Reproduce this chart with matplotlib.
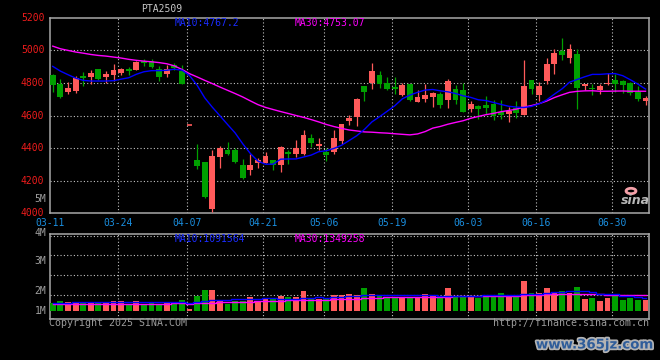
import matplotlib
matplotlib.use('Agg')
import matplotlib.pyplot as plt
import numpy as np
import matplotlib.patheffects as pe
from matplotlib.patches import Rectangle, Circle

# ---------------- data ----------------
title = 'PTA2509'
date_labels = ['03-11', '03-24', '04-07', '04-21', '05-06', '05-19', '06-03', '06-16', '06-30']
date_index = [0, 9, 18, 28, 36, 45, 55, 64, 74]

opens = [4849, 4796, 4743, 4749, 4841, 4837, 4883, 4837, 4847, 4863,
         4883, 4881, 4934, 4937, 4883, 4853, 4908, 4873, 4545, 4326,
         4314, 4028, 4347, 4388, 4388, 4296, 4265, 4306, 4310, 4326,
         4296, 4377, 4367, 4367, 4465, 4416, 4377, 4377, 4445, 4565,
         4592, 4779, 4800, 4847, 4800, 4775, 4724, 4792, 4684, 4700,
         4714, 4734, 4698, 4765, 4759, 4643, 4657, 4667, 4669, 4622,
         4612, 4649, 4602, 4816, 4724, 4812, 4914, 4999, 4953, 4979,
         4781, 4771, 4755, 4796, 4816, 4810, 4802, 4745, 4690]
highs = [4857, 4826, 4806, 4841, 4865, 4877, 4888, 4871, 4914, 4894,
         4898, 4934, 4945, 4947, 4902, 4912, 4920, 4908, 4545, 4424,
         4314, 4388, 4412, 4437, 4398, 4333, 4363, 4337, 4377, 4330,
         4412, 4388, 4449, 4510, 4486, 4461, 4398, 4514, 4551, 4602,
         4710, 4783, 4922, 4871, 4837, 4837, 4800, 4796, 4755, 4796,
         4745, 4745, 4826, 4785, 4800, 4687, 4663, 4718, 4694, 4694,
         4653, 4687, 4938, 4820, 4806, 4955, 5010, 5073, 5040, 5010,
         4796, 4796, 4796, 4863, 4857, 4816, 4808, 4779, 4718]
lows = [4745, 4708, 4730, 4739, 4781, 4796, 4816, 4802, 4810, 4849,
        4849, 4877, 4902, 4892, 4812, 4837, 4877, 4794, 4545, 4273,
        4096, 4010, 4280, 4360, 4310, 4212, 4235, 4276, 4306, 4265,
        4255, 4302, 4347, 4357, 4408, 4388, 4322, 4367, 4428, 4541,
        4535, 4688, 4765, 4771, 4759, 4735, 4718, 4688, 4684, 4684,
        4653, 4649, 4649, 4669, 4622, 4622, 4577, 4612, 4571, 4581,
        4561, 4587, 4602, 4734, 4690, 4796, 4853, 4944, 4922, 4638,
        4755, 4728, 4734, 4785, 4745, 4740, 4724, 4690, 4663]
closes = [4788, 4714, 4769, 4830, 4833, 4861, 4824, 4853, 4877, 4886,
          4873, 4928, 4924, 4896, 4835, 4883, 4890, 4794, 4545, 4290,
          4102, 4351, 4400, 4363, 4314, 4218, 4296, 4326, 4351, 4296,
          4408, 4363, 4402, 4480, 4431, 4428, 4357, 4465, 4547, 4584,
          4704, 4745, 4871, 4796, 4765, 4765, 4786, 4694, 4714, 4724,
          4739, 4663, 4810, 4694, 4622, 4669, 4639, 4647, 4596, 4602,
          4626, 4616, 4779, 4765, 4779, 4914, 4987, 4969, 5010, 4769,
          4792, 4763, 4779, 4800, 4792, 4785, 4738, 4700, 4708]
volume_m = [0.70, 0.85, 0.76, 0.76, 0.76, 0.76, 0.76, 0.76, 0.85, 0.85,
            0.61, 0.85, 0.61, 0.76, 0.50, 0.76, 0.76, 0.94, 0.15, 1.29,
            1.81, 1.81, 0.85, 0.61, 0.85, 0.85, 1.20, 0.85, 1.08, 1.08,
            1.29, 1.20, 1.20, 1.73, 1.02, 1.02, 1.02, 1.37, 1.37, 1.46,
            1.37, 1.99, 1.46, 1.32, 1.23, 1.23, 1.23, 1.08, 1.14, 1.46,
            1.32, 1.23, 1.99, 1.32, 1.23, 1.17, 1.14, 1.37, 1.29, 1.55,
            1.32, 1.37, 2.60, 1.52, 1.58, 1.99, 1.67, 1.73, 1.52, 2.08,
            1.02, 1.11, 0.85, 1.11, 1.29, 0.94, 1.08, 0.94, 0.94]
ma10_head = [4902, 4873, 4851, 4830, 4816, 4812, 4812, 4812, 4814]
ma30_head = [5026, 5010, 5000, 4990, 4983, 4975, 4969, 4965, 4959, 4953,
             4945, 4939, 4934, 4930, 4925, 4918, 4905, 4883, 4857, 4837,
             4816, 4796, 4775, 4755, 4735, 4714, 4690, 4667, 4650]
vma10_head = [0.70, 0.70, 0.71, 0.72, 0.72, 0.73, 0.73, 0.73, 0.74]
vma30_head = [0.60, 0.60, 0.60, 0.60, 0.61, 0.61, 0.61, 0.61, 0.62, 0.62,
              0.62, 0.62, 0.63, 0.63, 0.63, 0.63, 0.64, 0.64, 0.63, 0.65,
              0.68, 0.71, 0.72, 0.73, 0.75, 0.77, 0.80, 0.82, 0.84]
ma_text_price = ['MA10:4767.2', 'MA30:4753.07']
ma_text_vol = ['MA10:1091564', 'MA30:1349258']
price_ticks = [4000, 4200, 4400, 4600, 4800, 5000, 5200]
vol_labels = ['1M', '2M', '3M', '4M', '5M']

# ---------------- style ----------------
W, H = 660, 360
UP = '#ff5a5a'
DOWN = '#00a000'
BLUE = '#0000ff'
MAG = '#ff00ff'
GRID = '#c4c4c4'
BORDER = '#a8a8a8'
MONO = 'DejaVu Sans Mono'
FS = 7


def fx(x):
    return x / W


def fy(y):
    return 1 - y / H


def rolling(vals, n, head):
    out = []
    for i in range(len(vals)):
        if i < n - 1:
            out.append(head[i])
        else:
            out.append(float(np.mean(vals[i - n + 1:i + 1])))
    return out


ma10 = rolling(closes, 10, ma10_head)
ma30 = rolling(closes, 30, ma30_head)
vma10 = rolling(volume_m, 10, vma10_head)
vma30 = rolling(volume_m, 30, vma30_head)

fig = plt.figure(figsize=(6.6, 3.6), dpi=100, facecolor='black')

L, R = 50, 649
SP = 7.6
XMAX = (R - L) / SP
OFF = 0.36
BW = 0.78

# main axis
ax = fig.add_axes([fx(L), fy(213.3), fx(R - L), (213.3 - 17.8) / H])
ax.set_facecolor('black')
ax.set_xlim(0, XMAX)
ax.set_ylim(4000, 5200)

# volume axis
VB = 310.7
K = 11.4
axv = fig.add_axes([fx(L), fy(318.7), fx(R - L), (318.7 - 234.3) / H])
axv.set_facecolor('black')
axv.set_xlim(0, XMAX)
axv.set_ylim(-(318.7 - VB) / K, (VB - 234.3) / K)

for a in (ax, axv):
    for s in a.spines.values():
        s.set_color(BORDER)
        s.set_linewidth(1.1)
    a.tick_params(length=0)
    a.set_xticks([])
    a.set_yticks([])
    for xi in date_index[1:]:
        a.axvline(xi, color=GRID, lw=0.8, ls=(0, (1, 2)), zorder=1)

for p in price_ticks[1:-1]:
    ax.axhline(p, color=GRID, lw=0.8, ls=(0, (1, 2)), zorder=1)
for ypx in [235.7, 255.3, 275.3, 295.3]:
    axv.axhline((VB - ypx) / K, color=GRID, lw=0.8, ls=(0, (1, 2)), zorder=1)

# price tick labels
ax.set_yticks(price_ticks)
ax.set_yticklabels([str(p) for p in price_ticks], color='#ee1c1c',
                   fontfamily=MONO, fontsize=FS)
ax.tick_params(axis='y', pad=4)
for t in ax.get_yticklabels():
    t.set_verticalalignment('center')

# date labels (placed as text just under the price panel)
for lab, xi in zip(date_labels, date_index):
    ax.annotate(lab, xy=(xi, 0), xycoords=('data', 'axes fraction'),
                xytext=(0, -6.95), textcoords='offset points',
                color='#1a8fe0', fontfamily=MONO, fontsize=FS,
                ha='center', va='center', annotation_clip=False)

# candles
for i in range(len(closes)):
    o, h, l, c = opens[i], highs[i], lows[i], closes[i]
    col = UP if c >= o else DOWN
    x = i + OFF
    ax.vlines(x, l, h, color=col, lw=0.9, zorder=3)
    if abs(c - o) < 2:
        ax.hlines(o, x - BW / 2, x + BW / 2, color=col, lw=1.2, zorder=4)
    else:
        ax.add_patch(Rectangle((x - BW / 2, min(o, c)), BW, abs(c - o),
                               facecolor=col, edgecolor='none', zorder=4))
    axv.add_patch(Rectangle((x - BW / 2, 0), BW, volume_m[i],
                            facecolor=col, edgecolor='none', zorder=3))

xs = np.arange(len(closes)) + OFF
ax.plot(xs, ma30, color=MAG, lw=1.0, zorder=5)
ax.plot(xs, ma10, color=BLUE, lw=1.0, zorder=6)
axv.plot(xs, vma30, color=MAG, lw=1.0, drawstyle='steps-mid', zorder=5)
axv.plot(xs, vma10, color=BLUE, lw=1.0, drawstyle='steps-mid', zorder=6)

# texts
fig.text(fx(175), fy(23.5), ma_text_price[0], color='#1a2cff', fontfamily=MONO,
         fontsize=FS, va='center', ha='left')
fig.text(fx(295), fy(23.5), ma_text_price[1], color=MAG, fontfamily=MONO,
         fontsize=FS, va='center', ha='left')
fig.text(fx(175), fy(239), ma_text_vol[0], color='#1a2cff', fontfamily=MONO,
         fontsize=FS, va='center', ha='left')
fig.text(fx(295), fy(239), ma_text_vol[1], color=MAG, fontfamily=MONO,
         fontsize=FS, va='center', ha='left')
fig.text(fx(162), fy(9.5), title, color='#c8c8c8', fontfamily=MONO,
         fontsize=FS, va='center', ha='center')

for lab, ypx in zip(vol_labels, [310.7, 290.7, 260.5, 232.8, 199.0]):
    fig.text(fx(46.5), fy(ypx), lab, color='#a0a0a0', fontfamily=MONO,
             fontsize=FS, va='center', ha='right')

fig.text(fx(49), fy(323.5), 'Copyright 2025 SINA.COM', color='#9a9a9a',
         fontfamily=MONO, fontsize=7.2, va='center', ha='left')
fig.text(fx(649), fy(323.5), 'http://finance.sina.com.cn', color='#9a9a9a',
         fontfamily=MONO, fontsize=7.2, va='center', ha='right')

# sina logo
logo = Circle((fx(631), fy(191)), 0.0075, transform=fig.transFigure,
              facecolor='none', edgecolor='#f4a0a8', lw=2.0)
fig.patches.append(logo)
fig.text(fx(635), fy(201), 'sina', color='#b8b8b8', fontfamily='DejaVu Sans',
         fontsize=9, fontweight='bold', style='italic', va='center', ha='center')

# watermark
fig.text(fx(595), fy(345), 'www.365jz.com', color='#2f5d9a',
         fontfamily='DejaVu Sans', fontsize=9.6, fontweight='bold',
         va='center', ha='center',
         path_effects=[pe.withStroke(linewidth=2.5, foreground='#b4b4b4')])

fig.savefig('out.png', dpi=100, facecolor='black')
